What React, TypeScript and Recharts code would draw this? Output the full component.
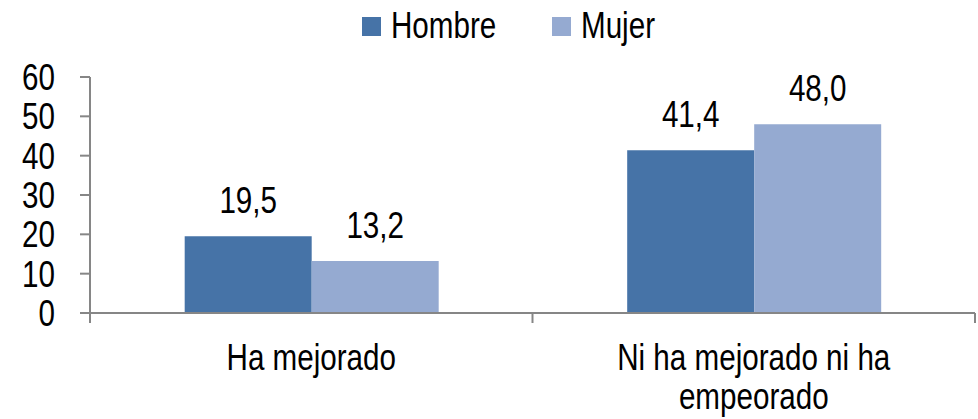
import { Bar, BarChart, LabelList, Legend, XAxis, YAxis } from "recharts";

const categories = ["Ha mejorado", "Ni ha mejorado ni ha empeorado"];
const hombre = [19.5, 41.4];
const mujer = [13.2, 48.0];
const yTicks = [0, 10, 20, 30, 40, 50, 60];

// Arial Narrow look: Liberation Sans squeezed horizontally
const FONT = '"Liberation Sans", Arial, sans-serif';
const FS = 37;
const SQUEEZE = 0.8;
const AXIS = "#868686";
const C_HOMBRE = "#4673A7";
const C_MUJER = "#95AAD1";

const data = categories.map((name, i) => ({ name, hombre: hombre[i], mujer: mujer[i] }));

const fmt = (v: any) => Number(v).toFixed(1).replace(".", ",");

let ctx: CanvasRenderingContext2D | null = null;
function measure(s: string) {
  if (!ctx) ctx = document.createElement("canvas").getContext("2d");
  if (!ctx) return s.length * FS * 0.45;
  ctx.font = `${FS}px ${FONT}`;
  return ctx.measureText(s).width * SQUEEZE;
}

function wrap(s: string, max: number) {
  const lines: string[] = [];
  let cur = "";
  for (const w of s.split(" ")) {
    const next = cur ? cur + " " + w : w;
    if (cur && measure(next) > max) {
      lines.push(cur);
      cur = w;
    } else cur = next;
  }
  if (cur) lines.push(cur);
  return lines;
}

function NarrowText({ x, y, anchor = "middle", children, dy = 0 }: any) {
  return (
    <text
      transform={`translate(${x},${y}) scale(${SQUEEZE},1)`}
      textAnchor={anchor}
      dy={dy}
      fontSize={FS}
      fontFamily={FONT}
      fill="#000"
    >
      {children}
    </text>
  );
}

function YTick({ x, y, payload }: any) {
  return <NarrowText x={x} y={y} anchor="end" dy="0.355em">{payload.value}</NarrowText>;
}

function CategoryTick(props: any) {
  const { x, y, payload, index } = props;
  const half = payload.offset || 0;
  const isLast = index === categories.length - 1;
  const lines = wrap(String(payload.value), 330);
  return (
    <g>
      <line x1={x - half} x2={x - half} y1={y - 10} y2={y} stroke={AXIS} strokeWidth={2} />
      {isLast && <line x1={x + half} x2={x + half} y1={y - 10} y2={y} stroke={AXIS} strokeWidth={2} />}
      {lines.map((l, i) => (
        <NarrowText key={i} x={x} y={y + 47 + i * 39}>{l}</NarrowText>
      ))}
    </g>
  );
}

function BarValue({ x, y, width, value }: any) {
  return <NarrowText x={x + width / 2} y={y - 23}>{fmt(value)}</NarrowText>;
}

function TopLegend() {
  const items = [
    { label: "Hombre", color: C_HOMBRE, x: 362 },
    { label: "Mujer", color: C_MUJER, x: 552 },
  ];
  return (
    <svg width={978} height={77} style={{ display: "block" }}>
      {items.map((it) => (
        <g key={it.label}>
          <rect x={it.x} y={17} width={19} height={19} fill={it.color} />
          <NarrowText x={it.x + 29} y={38} anchor="start">{it.label}</NarrowText>
        </g>
      ))}
    </svg>
  );
}

export default function App() {
  return (
    <div style={{ width: 978, height: 419 }}>
      <style>{`body{margin:0}`}</style>
      <BarChart
        width={978}
        height={419}
        data={data}
        margin={{ top: 0, right: 3, bottom: 0, left: 0 }}
        barCategoryGap="21.4%"
        barGap={0}
      >
        <Legend verticalAlign="top" align="left" content={<TopLegend />} height={77} />
        <YAxis
          width={90}
          domain={[0, 60]}
          ticks={yTicks}
          interval={0}
          axisLine={{ stroke: AXIS, strokeWidth: 2 }}
          tickLine={{ stroke: AXIS, strokeWidth: 2 }}
          tickSize={10}
          tickMargin={25}
          tick={<YTick />}
        />
        <XAxis
          dataKey="name"
          height={106}
          interval={0}
          axisLine={{ stroke: AXIS, strokeWidth: 2 }}
          tickLine={false}
          tickSize={10}
          tickMargin={0}
          tick={<CategoryTick />}
        />
        <Bar dataKey="hombre" name="Hombre" fill={C_HOMBRE} isAnimationActive={false}>
          <LabelList dataKey="hombre" content={<BarValue />} />
        </Bar>
        <Bar dataKey="mujer" name="Mujer" fill={C_MUJER} isAnimationActive={false}>
          <LabelList dataKey="mujer" content={<BarValue />} />
        </Bar>
      </BarChart>
    </div>
  );
}
